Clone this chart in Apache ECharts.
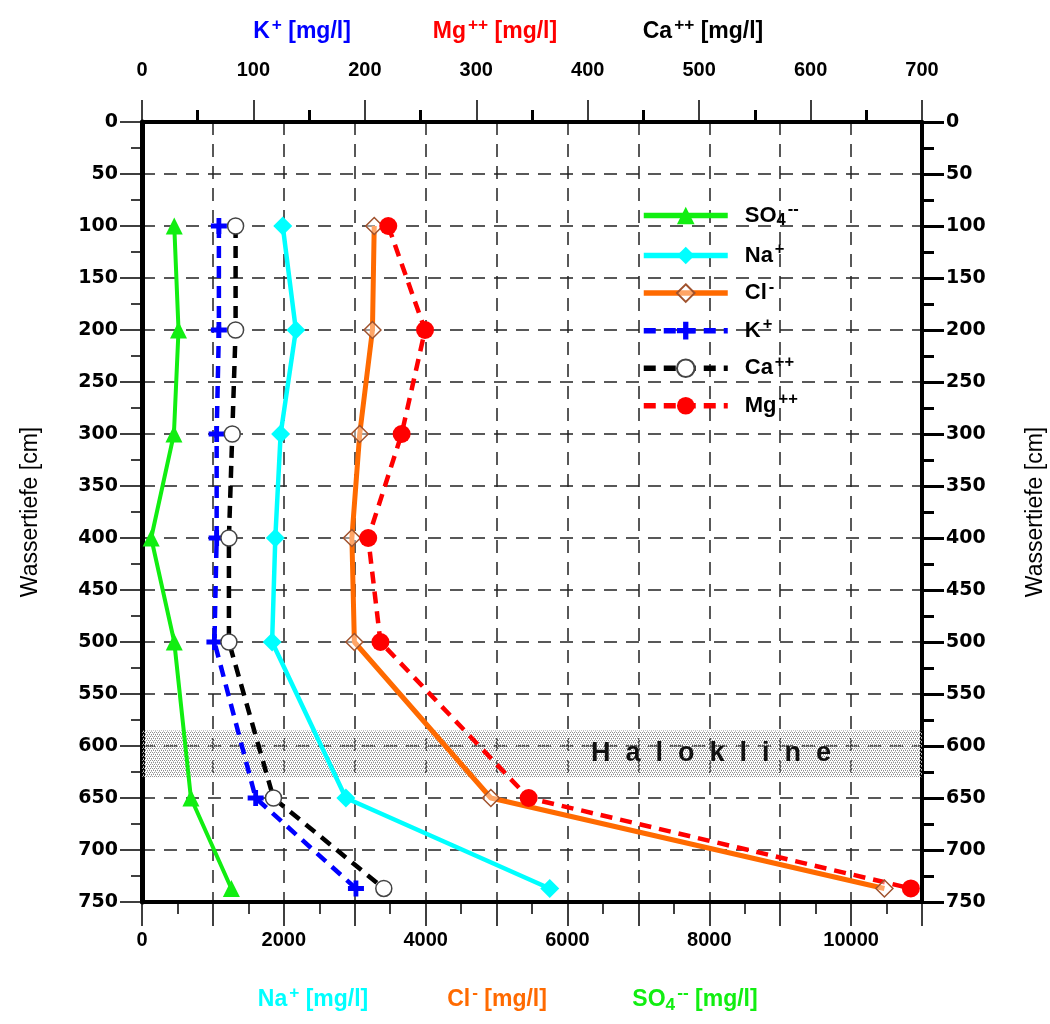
<!DOCTYPE html>
<html>
<head>
    <meta charset="utf-8">
    <title>Wassertiefe - Ionenprofil</title>
    <script src="https://cdn.jsdelivr.net/npm/echarts@6/dist/echarts.min.js"></script>
    <style>
        body { margin: 0; background: #fff; }
        #chart { width: 1050px; height: 1024px; }
    </style>
</head>
<body>
<div id="chart"></div>
<script>
// Messtiefen [cm]
const depth = [100, 200, 300, 400, 500, 650, 737];

// untere Achse (0 - 11000 mg/l)
const so4 = [455, 515, 450, 130, 455, 690, 1260];
const na  = [1985, 2170, 1955, 1880, 1835, 2875, 5750];
const cl  = [3275, 3250, 3070, 2960, 2995, 4920, 10470];

// obere Achse (0 - 700 mg/l)
const kIon = [69, 69, 67, 67, 65, 102, 192];
const ca   = [84, 84, 81, 78, 78, 118, 217];
const mg   = [221, 254, 233, 203, 214, 347, 690];

// Haloklinen-Bereich [cm]
const halocline = [585, 630];

const bottomRange = [0, 11000];
const topRange = [0, 700];
const depthRange = [0, 750];

const FONT = "'Liberation Sans', Arial, sans-serif";
const WIDE = "'DejaVu Sans', Verdana, sans-serif";

function pairs(vals) {
    return vals.map((v, i) => [v, depth[i]]);
}

// Punktraster fuer die Halokline
const pat = document.createElement('canvas');
pat.width = 4; pat.height = 4;
const pctx = pat.getContext('2d');
pctx.fillStyle = '#8f8f8f';
[[0,0],[2,0],[1,2],[3,2]].forEach(p => pctx.fillRect(p[0], p[1], 1, 1));
pctx.fillStyle = '#c4c4c4';
[[1,1],[3,3]].forEach(p => pctx.fillRect(p[0], p[1], 1, 1));

const dashGrid = { type: [13, 9], color: '#222', width: 1.5 };
const dashed = [12, 8];

const labelNames = {
    SO4: '{b|SO}{sub|4}{sup|--}',
    Na: '{b|Na}{sup|+}',
    Cl: '{b|Cl}{sup|-}',
    K: '{b|K}{sup|+}',
    Ca: '{b|Ca}{sup|++}',
    Mg: '{b|Mg}{sup|++}'
};

function richSet(size, color) {
    const base = { fontWeight: 'bold', fontFamily: FONT, color: color, fill: color };
    return {
        b: Object.assign({}, base, { fontSize: size }),
        sup: Object.assign({}, base, { fontSize: size * 0.75, padding: [0, 0, size * 0.55, 2] }),
        sub: Object.assign({}, base, { fontSize: size * 0.75, padding: [size * 0.45, 0, 0, 0] })
    };
}

function axisTitle(text, x, y, color) {
    return {
        type: 'text',
        x: x, y: y,
        style: {
            text: text,
            fill: color,
            align: 'center',
            verticalAlign: 'middle',
            rich: richSet(23, color)
        }
    };
}

const chart = echarts.init(document.getElementById('chart'));

const option = {
    animation: false,
    backgroundColor: '#fff',
    grid: { left: 142, right: 128, top: 122, bottom: 122, containLabel: false, outerBoundsMode: 'none' },
    legend: {
        orient: 'vertical',
        left: 636,
        top: 196,
        itemWidth: 84,
        itemHeight: 22,
        itemGap: 12,
        data: ['SO4', 'Na', 'Cl', 'K', 'Ca', 'Mg'],
        formatter: name => labelNames[name],
        lineStyle: { width: 5.5 },
        textStyle: { rich: richSet(22, '#000'), padding: [0, 0, 0, 12] }
    },
    xAxis: [{
        type: 'value',
        position: 'bottom',
        min: bottomRange[0], max: bottomRange[1], interval: 1000,
        axisLine: { onZero: false, lineStyle: { color: '#000', width: 4 } },
        axisTick: { length: 24, lineStyle: { color: '#000', width: 1.5 } },
        minorTick: { show: true, splitNumber: 2, length: 12, lineStyle: { color: '#000', width: 1.5 } },
        minorSplitLine: { show: false },
        axisLabel: {
            formatter: v => (v % 2000 === 0 ? String(v) : ''),
            margin: 28, color: '#000', fontSize: 20, fontWeight: 'bold', fontFamily: FONT
        },
        splitLine: { show: true, lineStyle: dashGrid }
    }, {
        type: 'value',
        position: 'top',
        min: topRange[0], max: topRange[1], interval: 100,
        axisLine: { onZero: false, lineStyle: { color: '#000', width: 4 } },
        axisTick: { length: 22, lineStyle: { color: '#000', width: 1.5 } },
        minorTick: { show: true, splitNumber: 2, length: 12, lineStyle: { color: '#000', width: 3 } },
        axisLabel: { margin: 42, color: '#000', fontSize: 20, fontWeight: 'bold', fontFamily: FONT },
        splitLine: { show: false }
    }],
    yAxis: [{
        type: 'value',
        inverse: true,
        position: 'left',
        min: depthRange[0], max: depthRange[1], interval: 50,
        name: 'Wassertiefe [cm]',
        nameLocation: 'middle',
        nameGap: 100,
        nameRotate: 90,
        nameTextStyle: { color: '#000', fontSize: 23, fontFamily: FONT },
        axisLine: { onZero: false, lineStyle: { color: '#000', width: 5 } },
        axisTick: { length: 22, lineStyle: { color: '#000', width: 1.5 } },
        minorTick: { show: true, splitNumber: 2, length: 11, lineStyle: { color: '#000', width: 1.5 } },
        axisLabel: { margin: 24, color: '#000', fontSize: 19, fontWeight: 'bold', fontFamily: WIDE },
        splitLine: { show: true, lineStyle: dashGrid }
    }, {
        type: 'value',
        inverse: true,
        position: 'right',
        min: depthRange[0], max: depthRange[1], interval: 50,
        name: 'Wassertiefe [cm]',
        nameLocation: 'middle',
        nameGap: 102,
        nameRotate: 90,
        nameTextStyle: { color: '#000', fontSize: 23, fontFamily: FONT },
        axisLine: { onZero: false, lineStyle: { color: '#000', width: 4 } },
        axisTick: { length: 22, lineStyle: { color: '#000', width: 3 } },
        minorTick: { show: true, splitNumber: 2, length: 12, lineStyle: { color: '#000', width: 3 } },
        axisLabel: { margin: 24, color: '#000', fontSize: 19, fontWeight: 'bold', fontFamily: WIDE },
        splitLine: { show: false }
    }],
    graphic: [
        axisTitle('{b|K}{sup|+}{b| [mg/l]}', 302, 32, '#0000ff'),
        axisTitle('{b|Mg}{sup|++}{b| [mg/l]}', 495, 32, '#ff0000'),
        axisTitle('{b|Ca}{sup|++}{b| [mg/l]}', 703, 32, '#000000'),
        axisTitle('{b|Na}{sup|+}{b| [mg/l]}', 313, 1000, '#00ffff'),
        axisTitle('{b|Cl}{sup|-}{b| [mg/l]}', 497, 1000, '#ff6a00'),
        axisTitle('{b|SO}{sub|4}{sup|--}{b| [mg/l]}', 695, 1000, '#11ee11')
    ],
    series: [{
        name: 'SO4',
        type: 'line',
        xAxisIndex: 0, yAxisIndex: 0,
        data: pairs(so4),
        symbol: 'triangle', symbolSize: 17,
        lineStyle: { color: '#11ee11', width: 4 },
        itemStyle: { color: '#11ee11' },
        markArea: {
            silent: true,
            itemStyle: { color: { image: pat, repeat: 'repeat' } },
            label: {
                show: true,
                position: 'insideRight',
                distance: 91,
                formatter: 'H  a  l  o  k  l  i  n  e',
                color: '#111',
                fontSize: 27,
                fontWeight: 'bold',
                fontFamily: FONT
            },
            data: [[{ yAxis: halocline[0] }, { yAxis: halocline[1] }]]
        }
    }, {
        name: 'Na',
        type: 'line',
        xAxisIndex: 0, yAxisIndex: 0,
        data: pairs(na),
        symbol: 'diamond', symbolSize: 19,
        lineStyle: { color: '#00ffff', width: 4.5 },
        itemStyle: { color: '#00ffff' }
    }, {
        name: 'Cl',
        type: 'line',
        xAxisIndex: 0, yAxisIndex: 0,
        data: pairs(cl),
        symbol: 'diamond', symbolSize: 17,
        lineStyle: { color: '#ff6a00', width: 5 },
        itemStyle: { color: 'rgba(255,255,255,0.4)', borderColor: '#a0522d', borderWidth: 1.5 }
    }, {
        name: 'K',
        type: 'line',
        xAxisIndex: 1, yAxisIndex: 0,
        data: pairs(kIon),
        symbol: 'path://M35,0 H65 V35 H100 V65 H65 V100 H35 V65 H0 V35 H35 Z',
        symbolSize: 16,
        lineStyle: { color: '#0000ff', width: 4.5, type: dashed },
        itemStyle: { color: '#0000ff' }
    }, {
        name: 'Ca',
        type: 'line',
        xAxisIndex: 1, yAxisIndex: 0,
        data: pairs(ca),
        symbol: 'circle', symbolSize: 16,
        lineStyle: { color: '#000', width: 4.5, type: dashed },
        itemStyle: { color: '#fff', borderColor: '#444', borderWidth: 1.5 }
    }, {
        name: 'Mg',
        type: 'line',
        xAxisIndex: 1, yAxisIndex: 0,
        data: pairs(mg),
        symbol: 'circle', symbolSize: 18,
        lineStyle: { color: '#ff0000', width: 4.5, type: dashed },
        itemStyle: { color: '#ff0000' }
    }]
};

chart.setOption(option);
</script>
</body>
</html>
